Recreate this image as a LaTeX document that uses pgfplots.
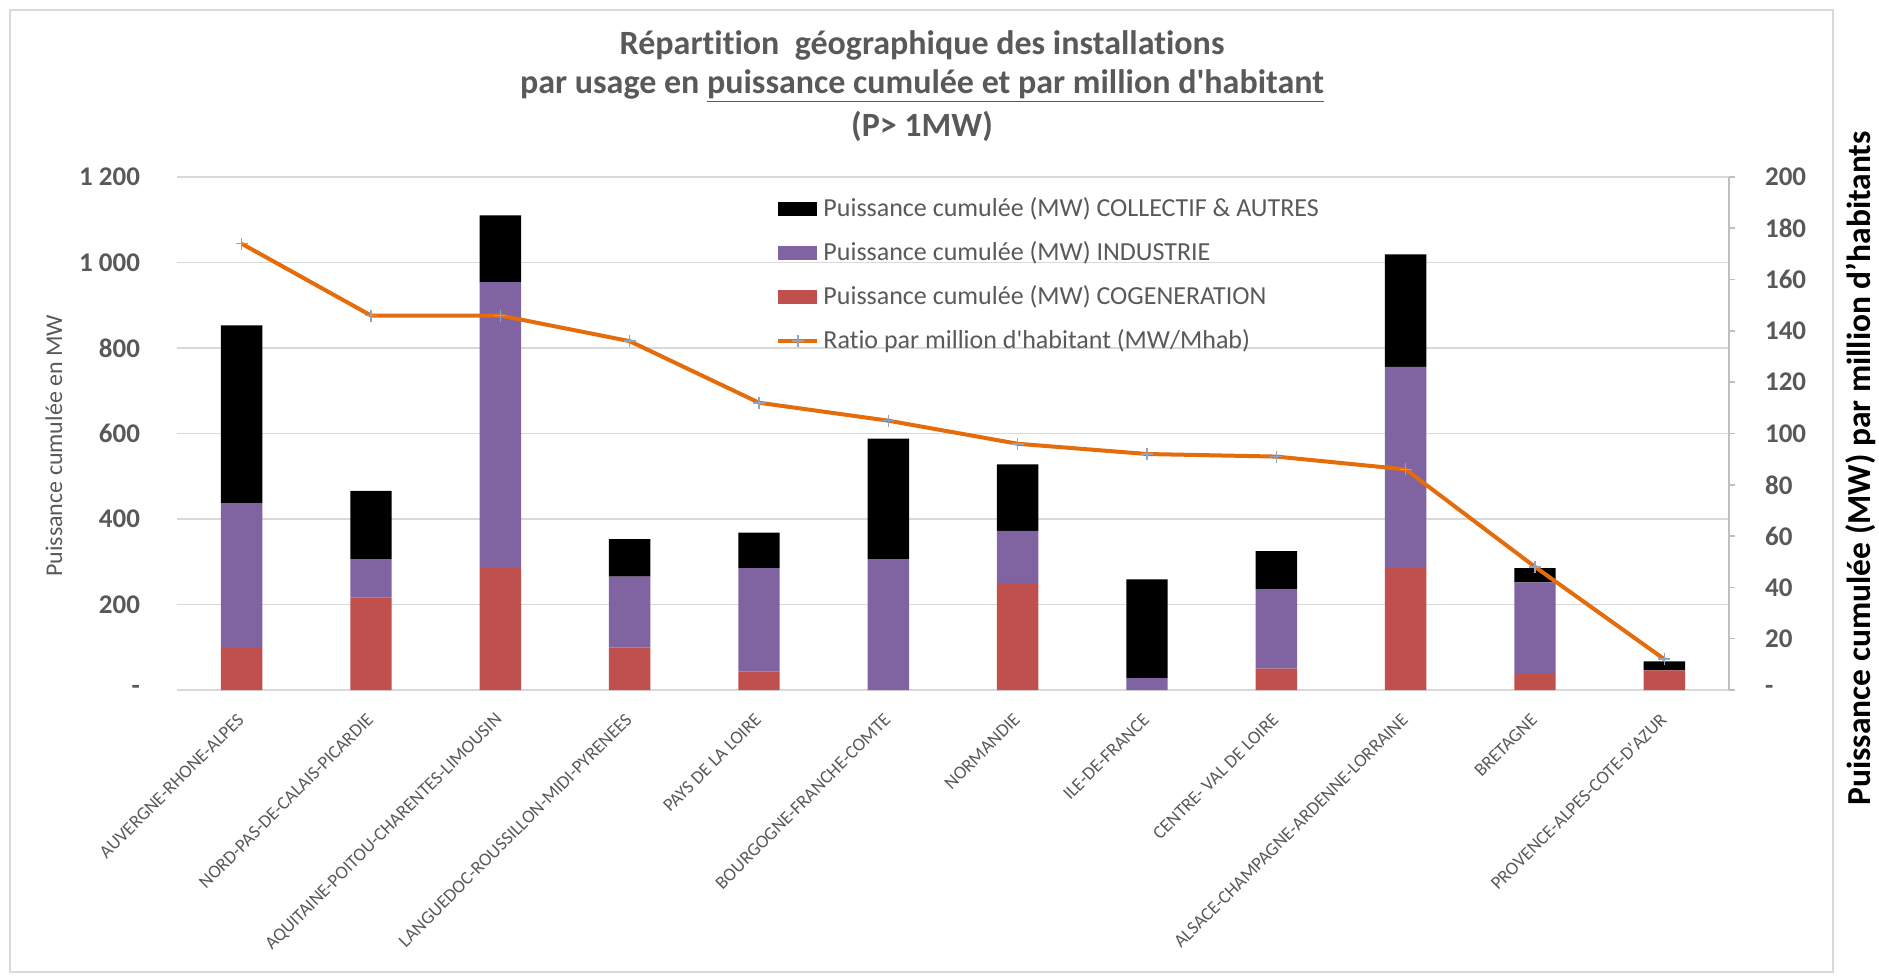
\documentclass[border=0pt]{standalone}
\usepackage{pgfplots}
\pgfplotsset{compat=1.18}
\usepackage{pgfplotstable}
\usepackage{fontspec}
\setmainfont{Carlito}[Ligatures={TeXOff,CommonOff}]
\definecolor{txt}{HTML}{595959}
\definecolor{gridc}{HTML}{D9D9D9}
\definecolor{axc}{HTML}{BFBFBF}
\definecolor{cog}{HTML}{C0504D}
\definecolor{ind}{HTML}{8064A2}
\definecolor{ratio}{HTML}{E46C0A}
\definecolor{mk}{HTML}{8EA4C0}

\pgfplotstableread{
x cog ind coll ratio
0 98 339 416 174
1 216 90 160 146
2 285 669 156 146
3 100 165 88 136
4 43 242 83 112
5 0 306 282 105
6 250 122 156 96
7 0 28 231 92
8 50 186 89 91
9 285 471 263 86
10 37 215 33 48
11 46 0 21 12
}\data

\begin{document}
\begin{tikzpicture}
\useasboundingbox (0pt,0pt) rectangle (939.5pt,487.5pt);
\draw[gridc, line width=0.6pt] (5pt,1.5pt) rectangle (916.5pt,482.5pt);
\node[txt, font=\fontsize{17}{20}\selectfont\bfseries] at (461pt,465pt) {Répartition\ \ géographique des installations};
\node[txt, font=\fontsize{17}{20}\selectfont\bfseries] at (461pt,444.5pt) {par usage en \underline{puissance cumulée et par million d'habitant}};
\node[txt, font=\fontsize{17}{20}\selectfont\bfseries] at (461pt,424.5pt) {(P> 1MW)};

\begin{axis}[
  at={(88.5pt,142.5pt)}, anchor=south west,
  scale only axis, width=776pt, height=256.5pt,
  xmin=-0.5, xmax=11.5, ymin=0, ymax=1200,
  ybar stacked, bar width=0.32,
  axis x line*=bottom, axis y line*=left,
  x axis line style={draw=gridc, line width=0.6pt},
  y axis line style={draw=none},
  major tick length=0pt,
  ymajorgrids, grid style={draw=gridc, line width=0.6pt},
  ytick={0,200,400,600,800,1000,1200},
  yticklabels={{-\hspace{4pt}},200,400,600,800,{1 000},{1 200}},
  yticklabel style={font=\fontsize{13.5}{16}\selectfont\bfseries, text=txt, xshift=-15pt},
  xtick={0,...,11},
  xticklabels={AUVERGNE-RHONE-ALPES,NORD-PAS-DE-CALAIS-PICARDIE,AQUITAINE-POITOU-CHARENTES-LIMOUSIN,LANGUEDOC-ROUSSILLON-MIDI-PYRENEES,PAYS DE LA LOIRE,BOURGOGNE-FRANCHE-COMTE,NORMANDIE,ILE-DE-FRANCE,CENTRE- VAL DE LOIRE,ALSACE-CHAMPAGNE-ARDENNE-LORRAINE,BRETAGNE,PROVENCE-ALPES-COTE-D'AZUR},
  xticklabel style={xshift=2pt, yshift=-11pt, rotate=45, anchor=east, font=\fontsize{9.25}{11}\selectfont, text=txt},
  ylabel={Puissance cumulée en MW},
  ylabel style={at={(axis description cs:-0.0793,0.476)}, anchor=center, rotate=0, font=\fontsize{12}{14}\selectfont, text=txt},
  reverse legend,
  legend cell align=left,
  legend style={at={(axis description cs:0.386,0.968)}, anchor=north west, draw=none, fill=none,
    font=\fontsize{13}{15}\selectfont, text=txt, row sep=7pt, inner sep=0pt},
]
\addlegendimage{legend image code/.code={\draw[ratio, line width=2pt] (0pt,0pt) -- (19.5pt,0pt); \draw[mk, line width=0.8pt] (9.75pt,-3pt) -- (9.75pt,3pt) (6.75pt,0pt) -- (12.75pt,0pt);}}
\addlegendentry{Ratio par million d'habitant (MW/Mhab)}
\addplot[fill=cog, draw=none, legend image code/.code={\fill[cog] (0pt,-3.5pt) rectangle (19.5pt,3.5pt);}] table[x=x,y=cog]{\data};
\addlegendentry{Puissance cumulée (MW) COGENERATION}
\addplot[fill=ind, draw=none, legend image code/.code={\fill[ind] (0pt,-3.5pt) rectangle (19.5pt,3.5pt);}] table[x=x,y=ind]{\data};
\addlegendentry{Puissance cumulée (MW) INDUSTRIE}
\addplot[fill=black, draw=none, legend image code/.code={\fill[black] (0pt,-3.5pt) rectangle (19.5pt,3.5pt);}] table[x=x,y=coll]{\data};
\addlegendentry{Puissance cumulée (MW) COLLECTIF \& AUTRES}
\end{axis}

\begin{axis}[
  at={(88.5pt,142.5pt)}, anchor=south west,
  scale only axis, width=776pt, height=256.5pt,
  xmin=-0.5, xmax=11.5, ymin=0, ymax=200,
  axis x line=none, axis y line*=right,
  y axis line style={draw=axc, line width=0.8pt},
  ytick={0,20,...,200},
  yticklabels={-,20,40,60,80,100,120,140,160,180,200},
  tick align=outside, major tick length=3pt,
  ytick style={draw=axc, line width=0.8pt},
  yticklabel style={font=\fontsize{13.5}{16}\selectfont\bfseries, text=txt, xshift=11.5pt},
  ylabel={Puissance cumulée (MW) par million d’habitants},
  ylabel style={at={(axis description cs:1.085,0.432)}, anchor=center, rotate=0, font=\fontsize{16.75}{19}\selectfont\bfseries, text=black},
]
\addplot[ratio, line width=2pt, mark=+, mark size=3pt, mark options={draw=mk, line width=0.8pt, solid}] table[x=x,y=ratio]{\data};
\end{axis}
\end{tikzpicture}
\end{document}
